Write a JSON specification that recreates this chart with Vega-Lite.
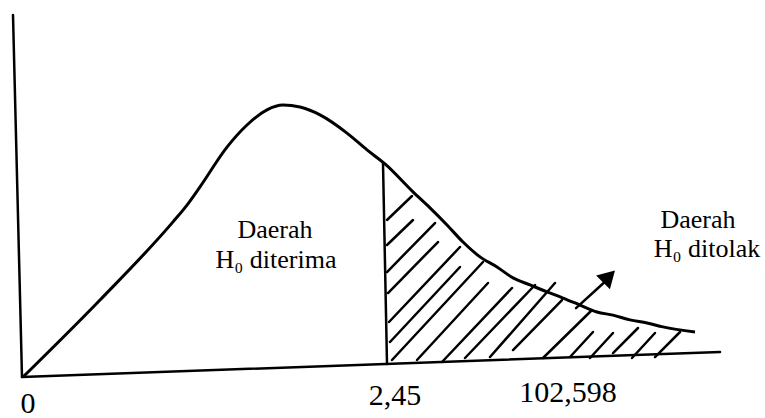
{
  "$schema": "https://vega.github.io/schema/vega-lite/v6.json",
  "width": 765,
  "height": 418,
  "padding": 0,
  "autosize": {"type": "none"},
  "background": "white",
  "config": {"view": {"stroke": null}},
  "datasets": {
    "curve": [
      {"x": 0.1, "y": 0}, {"x": 7.8, "y": 27.5}, {"x": 15.1, "y": 55.4}, {"x": 16.5, "y": 61.4},
      {"x": 17.8, "y": 67.9}, {"x": 20.5, "y": 82.1}, {"x": 22.5, "y": 90.0}, {"x": 24.5, "y": 95.4},
      {"x": 26.1, "y": 97.1}, {"x": 27.8, "y": 96.4}, {"x": 29.8, "y": 93.6}, {"x": 32.5, "y": 87.1},
      {"x": 34.5, "y": 81.1}, {"x": 36.3, "y": 76.1}, {"x": 39.1, "y": 66.1}, {"x": 40.8, "y": 60.4},
      {"x": 42.5, "y": 54.3}, {"x": 44.1, "y": 48.2}, {"x": 45.8, "y": 42.9}, {"x": 47.5, "y": 39.3},
      {"x": 49.1, "y": 35.4}, {"x": 50.8, "y": 32.9}, {"x": 52.5, "y": 30.4}, {"x": 54.1, "y": 28.2},
      {"x": 55.8, "y": 25.7}, {"x": 57.5, "y": 23.2}, {"x": 59.1, "y": 22.1}, {"x": 60.8, "y": 20.4},
      {"x": 62.5, "y": 19.3}, {"x": 64.1, "y": 17.9}, {"x": 67.3, "y": 16.1}
    ],
    "segments": [
      {"part": "y-axis", "x": -0.9, "y": 129.29, "x2": 0, "y2": 0},
      {"part": "x-axis", "x": 0, "y": 0, "x2": 69.8, "y2": 8.93},
      {"part": "critical", "x": 36.1, "y": 76.43, "x2": 36.5, "y2": 4.64},
      {"part": "hatch", "x": 36.5, "y": 56.07, "x2": 39.0, "y2": 64.64},
      {"part": "hatch", "x": 36.5, "y": 47.14, "x2": 39.1, "y2": 56.07},
      {"part": "hatch", "x": 36.5, "y": 37.5, "x2": 41.3, "y2": 55.0},
      {"part": "hatch", "x": 36.6, "y": 30.0, "x2": 41.6, "y2": 48.21},
      {"part": "hatch", "x": 36.7, "y": 19.64, "x2": 43.8, "y2": 46.43},
      {"part": "hatch", "x": 36.8, "y": 12.5, "x2": 43.8, "y2": 39.29},
      {"part": "hatch", "x": 37.0, "y": 6.07, "x2": 46.1, "y2": 41.07},
      {"part": "hatch", "x": 39.5, "y": 6.07, "x2": 46.6, "y2": 33.57},
      {"part": "hatch", "x": 42.0, "y": 5.36, "x2": 49.0, "y2": 31.79},
      {"part": "hatch", "x": 44.3, "y": 6.79, "x2": 51.3, "y2": 32.86},
      {"part": "hatch", "x": 46.8, "y": 7.14, "x2": 53.3, "y2": 33.57},
      {"part": "hatch", "x": 49.1, "y": 9.64, "x2": 54.0, "y2": 27.5},
      {"part": "hatch", "x": 52.1, "y": 6.79, "x2": 57.0, "y2": 23.93},
      {"part": "hatch", "x": 54.8, "y": 7.14, "x2": 57.1, "y2": 16.07},
      {"part": "hatch", "x": 56.8, "y": 6.79, "x2": 59.1, "y2": 15.71},
      {"part": "hatch", "x": 59.1, "y": 8.57, "x2": 61.6, "y2": 17.5},
      {"part": "hatch", "x": 61.0, "y": 6.79, "x2": 63.3, "y2": 15.71},
      {"part": "hatch", "x": 63.3, "y": 7.14, "x2": 65.8, "y2": 16.07},
      {"part": "arrow", "x": 55.4, "y": 24.6, "x2": 58.6, "y2": 35.0}
    ],
    "arrowhead": [{"x": 58.7, "y": 35.9}],
    "regions": [
      {"x": 25.3, "y": 49.64, "label": "Daerah"},
      {"x": 25.4, "y": 38.93, "label": "H₀ diterima"},
      {"x": 67.6, "y": 53.21, "label": "Daerah"},
      {"x": 68.5, "y": 42.86, "label": "H₀ ditolak"}
    ],
    "ticks": [
      {"x": 0.6, "y": -12.9, "label": "0"},
      {"x": 37.3, "y": -10.0, "label": "2,45"},
      {"x": 54.6, "y": -8.93, "label": "102,598"}
    ]
  },
  "encoding": {
    "x": {"field": "x", "type": "quantitative", "axis": null, "scale": {"domain": [-2.2, 74.3], "nice": false, "zero": false}},
    "y": {"field": "y", "type": "quantitative", "axis": null, "scale": {"domain": [-14.64, 134.64], "nice": false, "zero": false}}
  },
  "layer": [
    {
      "data": {"name": "segments"},
      "mark": {"type": "rule", "color": "black", "strokeWidth": 2.5, "strokeCap": "round"},
      "encoding": {
        "x2": {"field": "x2"},
        "y2": {"field": "y2"}
      }
    },
    {
      "data": {"name": "curve"},
      "mark": {"type": "line", "color": "black", "strokeWidth": 3, "interpolate": "monotone"}
    },
    {
      "data": {"name": "arrowhead"},
      "mark": {"type": "point", "shape": "triangle-up", "filled": true, "color": "black", "size": 380, "angle": 45, "opacity": 1}
    },
    {
      "data": {"name": "regions"},
      "mark": {"type": "text", "font": "'Liberation Serif', 'DejaVu Serif', serif", "fontSize": 26, "align": "center", "baseline": "alphabetic", "color": "black"},
      "encoding": {"text": {"field": "label"}}
    },
    {
      "data": {"name": "ticks"},
      "mark": {"type": "text", "font": "'Liberation Serif', 'DejaVu Serif', serif", "fontSize": 30, "align": "center", "baseline": "alphabetic", "color": "black"},
      "encoding": {"text": {"field": "label"}}
    }
  ]
}
